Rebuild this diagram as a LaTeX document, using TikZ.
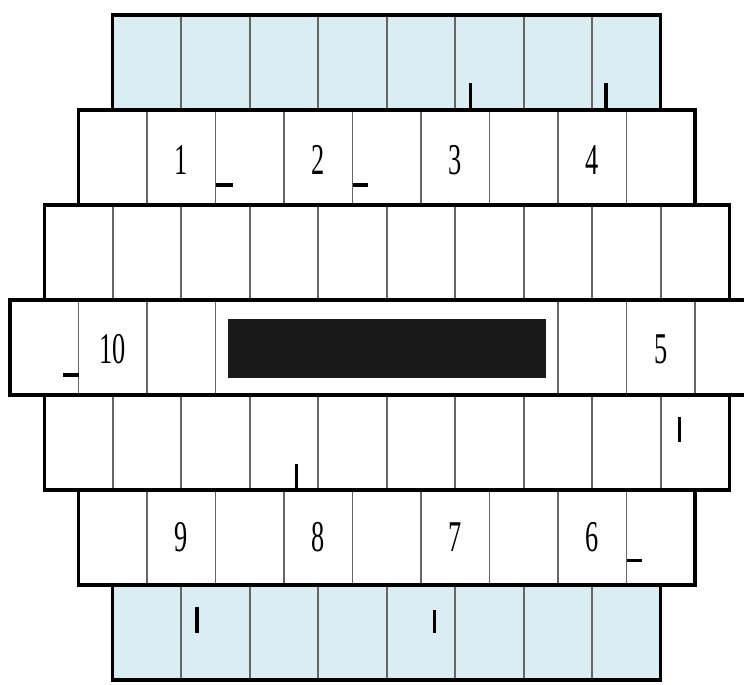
\documentclass[tikz,border=0pt]{standalone}
\usepackage{fontspec}
\setmainfont{Liberation Serif}
\definecolor{paleblue}{RGB}{218,237,243}

\begin{document}
\begin{tikzpicture}[x=1.37cm, y=-1.9cm,
	rowbox/.style={draw=black, line width=1.8pt},
	sep/.style={draw=black!60, line width=1.1pt},
	tick/.style={line width=1.8pt},
	num/.style={font=\fontsize{25}{25}\selectfont, xscale=0.6, inner sep=0pt}]
	\clip (-0.146,-0.158) rectangle (10.715,7.042);
	% blue end rows
	\foreach \r in {0,6} {
		\fill[paleblue] (1.5,\r) rectangle (9.5,\r+1);
		\foreach \x in {2.5,3.5,...,8.5} {\draw[sep] (\x,\r) -- (\x,\r+1);}
		\draw[rowbox] (1.5,\r) rectangle (9.5,\r+1);
	}
	% white rows
	\foreach \r/\a/\b/\xs in {1/1/10/{2,3,...,9}, 5/1/10/{2,3,...,9}, 2/0.5/10.5/{1.5,2.5,...,9.5}, 4/0.5/10.5/{1.5,2.5,...,9.5}} {
		\foreach \x in \xs {\draw[sep] (\x,\r) -- (\x,\r+1);}
		\draw[rowbox] (\a,\r) rectangle (\b,\r+1);
	}
	% middle row with the slot
	\foreach \x in {1,2,3,8,9,10} {\draw[sep] (\x,3) -- (\x,4);}
	\draw[rowbox] (0,3) rectangle (11,4);
	\fill[black!90] (3.18,3.2) rectangle (7.82,3.82);
	% numbers
	\foreach \t/\x/\y in {1/2.5/1.53, 2/4.5/1.53, 3/6.5/1.53, 4/8.5/1.53, 10/1.5/3.52, 5/9.5/3.52, 9/2.5/5.5, 8/4.5/5.5, 7/6.5/5.5, 6/8.5/5.5}
		\node[num] (n\t) at (\x,\y) {\t};
	% small marks
	\draw[tick] (6.72,0.72) -- (6.72,1);
	\draw[tick] (8.7,0.72) -- (8.7,1);
	\draw[tick] (3,1.79) -- (3.25,1.79);
	\draw[tick] (5,1.79) -- (5.23,1.79);
	\draw[tick] (0.77,3.79) -- (1,3.79);
	\draw[tick] (4.18,4.73) -- (4.18,5);
	\draw[tick] (9.77,4.23) -- (9.77,4.49);
	\draw[tick] (9,5.74) -- (9.22,5.74);
	\draw[tick] (2.73,6.23) -- (2.73,6.5);
	\draw[tick] (6.2,6.26) -- (6.2,6.5);
\end{tikzpicture}
\end{document}
